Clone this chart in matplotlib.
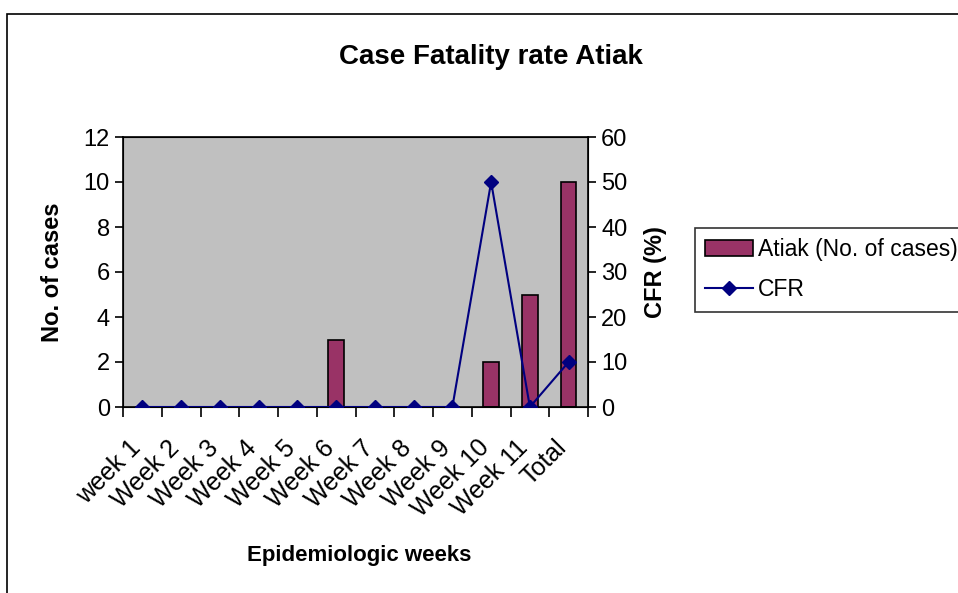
import matplotlib.pyplot as plt
import matplotlib.patches as mpatches
import matplotlib.transforms as mtransforms
from matplotlib.lines import Line2D
import numpy as np

plt.rcParams['font.family'] = ['Liberation Sans', 'DejaVu Sans']

# data
weeks = ['week 1', 'Week 2', 'Week 3', 'Week 4', 'Week 5', 'Week 6',
         'Week 7', 'Week 8', 'Week 9', 'Week 10', 'Week 11', 'Total']
cases = [0, 0, 0, 0, 0, 3, 0, 0, 0, 2, 5, 10]
cfr = [0, 0, 0, 0, 0, 0, 0, 0, 0, 50, 0, 10]

W, H = 958, 593
fig = plt.figure(figsize=(W / 100, H / 100), dpi=100)

# chart border
fig.add_artist(mpatches.Rectangle((7 / W, -0.1), 1.1, 1 - 14 / H + 0.1,
                                  transform=fig.transFigure, fill=False,
                                  edgecolor='black', linewidth=1.2))

ax = fig.add_axes([123 / W, 1 - 407 / H, (588 - 123) / W, (407 - 137) / H])
ax.set_facecolor('#C0C0C0')
x = np.arange(len(weeks))
ax.bar(x, cases, width=0.4, color='#993366', edgecolor='black', linewidth=1.2, zorder=2)
ax.set_xlim(-0.5, len(weeks) - 0.5)
ax.set_ylim(0, 12)
ax.set_yticks(range(0, 13, 2))
ax.tick_params(axis='y', labelsize=17, length=6, width=1.2, direction='out')

ax.set_xticks(np.arange(-0.5, len(weeks), 1), minor=False)
ax.set_xticklabels([])
ax.tick_params(axis='x', length=7, width=1.2, direction='out')
ax.set_xticks(x, minor=True)
ax.set_xticklabels(weeks, minor=True, rotation=45, ha='right',
                   rotation_mode='anchor', fontsize=18)
ax.tick_params(axis='x', which='minor', length=0, pad=22)
shift = mtransforms.ScaledTranslation(-0.14, 0.02, fig.dpi_scale_trans)
for lab in ax.get_xticklabels(minor=True):
    lab.set_transform(lab.get_transform() + shift)

for s in ax.spines.values():
    s.set_linewidth(1.2)

ax.set_ylabel('No. of cases', fontsize=17, fontweight='bold', labelpad=14)

ax2 = ax.twinx()
ax2.plot(x, cfr, color='#000080', linewidth=1.5, marker='D', markersize=7, zorder=3)
ax2.set_ylim(0, 60)
ax2.set_yticks(range(0, 61, 10))
ax2.tick_params(axis='y', labelsize=17, length=6, width=1.2, direction='out')
ax2.set_ylabel('CFR (%)', fontsize=17, fontweight='bold', labelpad=12)

fig.text(491 / W, 1 - 57 / H, 'Case Fatality rate Atiak', fontsize=20,
         fontweight='bold', ha='center', va='center')
fig.text(359 / W, 1 - 555 / H, 'Epidemiologic weeks', fontsize=16,
         fontweight='bold', ha='center', va='center')

handles = [mpatches.Patch(facecolor='#993366', edgecolor='black', linewidth=1.2),
           Line2D([], [], color='#000080', linewidth=1.5, marker='D', markersize=7)]
leg = fig.legend(handles, ['Atiak (No. of cases)', 'CFR'], loc='upper left',
                 bbox_to_anchor=(695 / W, 1 - 228 / H), fontsize=16.5,
                 fancybox=False, frameon=True, borderaxespad=0,
                 handlelength=2.1, handletextpad=0.2, labelspacing=0.75,
                 borderpad=0.45)
leg.get_frame().set_edgecolor('black')
leg.get_frame().set_linewidth(1.2)

fig.savefig('out.png', dpi=100)
